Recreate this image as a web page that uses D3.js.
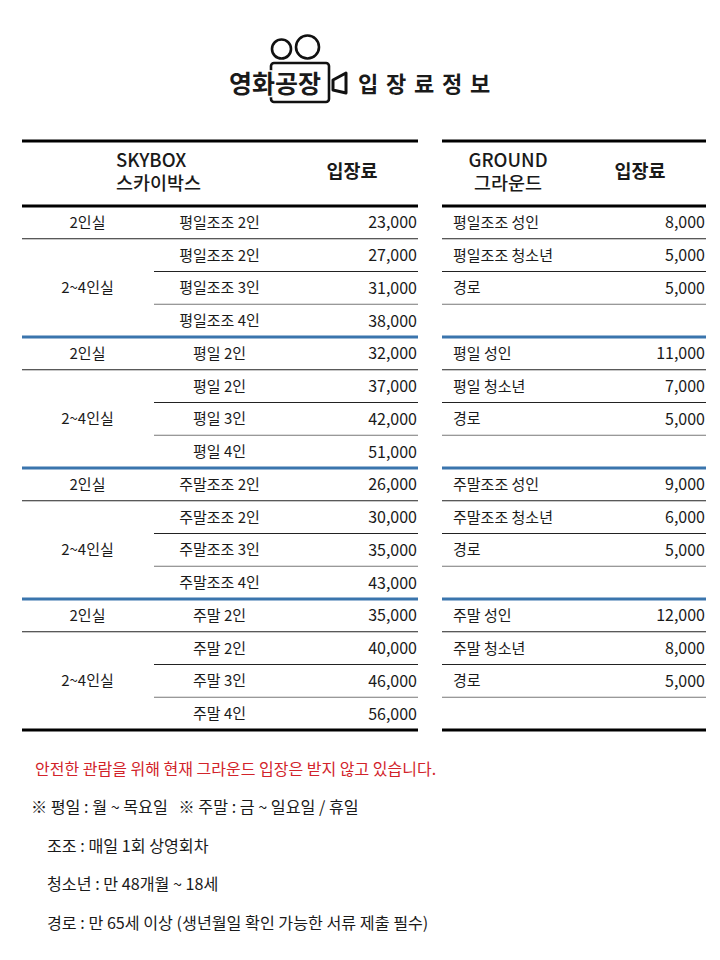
<!DOCTYPE html>
<html>
<head>
<meta charset="utf-8">
<script src="https://cdn.jsdelivr.net/npm/d3@7"></script>
<style>
  html, body { margin: 0; background: #fff; }
  text { font-family: "Noto Sans CJK KR", "Noto Sans", sans-serif; fill: #1a1a1a; }
</style>
</head>
<body>
<div id="graphics"></div>
<script>
// table contents, row by row
const skyboxRooms = ["2인실", "2~4인실", "2인실", "2~4인실", "2인실", "2~4인실", "2인실", "2~4인실"];
const skyboxTickets = [
    "평일조조 2인", "평일조조 2인", "평일조조 3인", "평일조조 4인",
    "평일 2인", "평일 2인", "평일 3인", "평일 4인",
    "주말조조 2인", "주말조조 2인", "주말조조 3인", "주말조조 4인",
    "주말 2인", "주말 2인", "주말 3인", "주말 4인"
];
const skyboxPrices = [23000, 27000, 31000, 38000, 32000, 37000, 42000, 51000, 26000, 30000, 35000, 43000, 35000, 40000, 46000, 56000];
const groundTickets = [
    "평일조조 성인", "평일조조 청소년", "경로", "",
    "평일 성인", "평일 청소년", "경로", "",
    "주말조조 성인", "주말조조 청소년", "경로", "",
    "주말 성인", "주말 청소년", "경로", ""
];
const groundPrices = [8000, 5000, 5000, null, 11000, 7000, 5000, null, 9000, 6000, 5000, null, 12000, 8000, 5000, null];
const notes = [
    "※ 평일 : 월 ~ 목요일   ※ 주말 : 금 ~ 일요일 / 휴일",
    "조조 : 매일 1회 상영회차",
    "청소년 : 만 48개월 ~ 18세",
    "경로 : 만 65세 이상 (생년월일 확인 가능한 서류 제출 필수)"
];

const svg = d3.select("#graphics").append("svg")
    .attr("width", 720)
    .attr("height", 960)
    .style("display", "block");

const y = d3.scaleLinear().domain([0, 16]).range([206, 730]);
const rowMid = i => y(i + 0.5) - 1;
const fmt = d3.format(",");

const line = (x1, x2, yy, color, w) => svg.append("line")
    .attr("x1", x1).attr("x2", x2).attr("y1", yy).attr("y2", yy)
    .attr("stroke", color).attr("stroke-width", w);

const label = (x, yy, str, anchor, size, weight) => svg.append("text")
    .attr("x", x).attr("y", yy)
    .attr("text-anchor", anchor || "start")
    .attr("dominant-baseline", "central")
    .attr("font-size", size || 15)
    .attr("font-weight", weight || 400)
    .text(str);

// two line head cell, one text element with a tspan per line
const head = (x, anchor, first, second, size) => {
    const t = svg.append("text")
        .attr("text-anchor", anchor)
        .attr("font-size", size)
        .attr("font-weight", 500);
    t.append("tspan").attr("x", x).attr("y", 167).text(first);
    t.append("tspan").attr("x", x).attr("y", 190).text(second);
};

// logo
const logo = svg.append("g").attr("fill", "none").attr("stroke", "#111").attr("stroke-width", 2.6);
logo.append("circle").attr("cx", 281.5).attr("cy", 49).attr("r", 9.5);
logo.append("circle").attr("cx", 307.5).attr("cy", 47).attr("r", 11.5);
logo.append("rect").attr("x", 271).attr("y", 63).attr("width", 58).attr("height", 39).attr("rx", 3);
logo.append("path").attr("d", "M346 73L333 80V90L346 93Z").attr("stroke-linejoin", "round").attr("stroke-width", 3);

label(229, 82, "영화공장", "start", 25, 700)
    .attr("stroke", "#fff").attr("stroke-width", 3).attr("paint-order", "stroke");

["입", "장", "료", "정", "보"].forEach((c, i) => {
    label(368 + i * 28, 82, c, "middle", 22, 700);
});

// table heads
line(22, 418, 141, "#000", 3);
line(442, 706, 141, "#000", 3);
head(116, "start", "SKYBOX", "스카이박스", 18.5);
label(352, 170, "입장료", "middle", 18.5, 700);
head(508, "middle", "GROUND", "그라운드", 18.5);
label(640, 170, "입장료", "middle", 18.5, 700);

// rows
skyboxTickets.forEach((t, i) => {
    label(219.5, rowMid(i), t, "middle");
    label(417, rowMid(i), fmt(skyboxPrices[i]), "end", 16);
    if (groundTickets[i]) {
        label(453, rowMid(i), groundTickets[i]);
        label(705, rowMid(i), fmt(groundPrices[i]), "end", 16);
    }
});

skyboxRooms.forEach((r, i) => {
    // rooms alternate between one row and a three row span
    const group = Math.floor(i / 2);
    const mid = i % 2 === 0 ? rowMid(group * 4) : rowMid(group * 4 + 2);
    label(87.5, mid, r, "middle");
});

// rules between rows
d3.range(1, 16).forEach(i => {
    const isGroup = i % 4 === 0;
    const gray = i % 4 === 3 ? "#777" : "#222";
    if (isGroup) {
        line(22, 418, y(i), "#3a75ad", 3);
        line(442, 706, y(i), "#3a75ad", 3);
    } else {
        line(i % 4 === 1 ? 22 : 154, 418, y(i), gray, 1.2);
        line(442, 706, y(i), gray, 1.2);
    }
});
line(22, 418, y(0), "#000", 3);
line(442, 706, y(0), "#000", 3);
line(22, 418, y(16), "#000", 3);
line(442, 706, y(16), "#000", 3);

// footnotes
label(35, 768, "안전한 관람을 위해 현재 그라운드 입장은 받지 않고 있습니다.", "start", 16).style("fill", "#d2232a");
notes.forEach((n, i) => {
    label(i === 0 ? 31 : 47, 806 + i * 38.5, n, "start", 16.15).style("white-space", "pre");
});
</script>
</body>
</html>
